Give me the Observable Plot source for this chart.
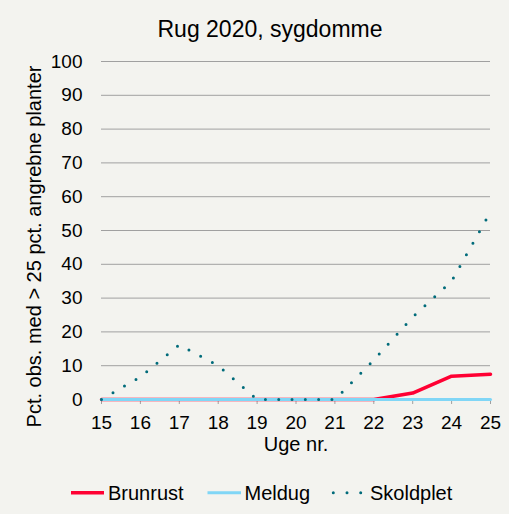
<!DOCTYPE html>
<html><head><meta charset="utf-8">
<script src="https://cdn.jsdelivr.net/npm/d3@7"></script>
<script src="https://cdn.jsdelivr.net/npm/@observablehq/plot@0.6"></script>
<style>
html,body{margin:0;padding:0;background:#f3f3ef;}
#wrap{position:relative;width:509px;height:514px;background:#f3f3ef;font-family:"Liberation Sans",Arial,sans-serif;color:#000;overflow:hidden;}
#title{position:absolute;left:0;top:18px;width:540px;text-align:center;font-size:23px;line-height:23px;white-space:nowrap;}
#chart{position:absolute;left:0;top:50px;}
#legend{position:absolute;left:0;top:470px;width:509px;height:44px;}
.lg{position:absolute;top:13px;font-size:20px;line-height:20px;white-space:nowrap;}
#sw{position:absolute;left:0;top:0;}
</style>
</head><body>
<div id="wrap">
  <div id="title">Rug 2020, sygdomme</div>
  <div id="chart"></div>
  <div id="legend"></div>
</div>
<script>
const weeks = [15, 16, 17, 18, 19, 20, 21, 22, 23, 24, 25];
const brunrust = [0, 0, 0, 0, 0, 0, 0, 0, 1.9, 6.9, 7.5];
const meldug = [0, 0, 0, 0, 0, 0, 0, 0, 0, 0, 0];
const skoldplet = [0, 6.7, 16.2, 10, 0, 0, 0, 11.7, 24.4, 35, 55.5];
const seriesNames = ["Brunrust", "Meldug", "Skoldplet"];
const seriesColors = ["#ff0033", "#80d6f6", "#006b7a"];
const yTicks = [0, 10, 20, 30, 40, 50, 60, 70, 80, 90, 100];
const xTicks = [15, 16, 17, 18, 19, 20, 21, 22, 23, 24, 25];
const yLabel = "Pct. obs. med > 25 pct. angrebne planter";
const xLabel = "Uge nr.";

const rows = (vals) => weeks.map((w, i) => ({week: w, value: vals[i]}));

const plot = Plot.plot({
  width: 509,
  height: 420,
  marginLeft: 101,
  marginRight: 19,
  marginTop: 11,
  marginBottom: 71,
  style: {background: "transparent", fontFamily: "'Liberation Sans', Arial, sans-serif", fontSize: "19px", color: "#000", overflow: "visible"},
  x: {domain: [15, 25]},
  y: {domain: [0, 100]},
  marks: [
    Plot.gridY(yTicks, {stroke: "#a0a0a0", strokeOpacity: 1, strokeWidth: 1}),
    Plot.axisY(yTicks, {tickSize: 0, tickPadding: 19, fontSize: 19, label: null, tickFormat: d => String(d)}),
    Plot.axisX(xTicks, {tickSize: 5, tickPadding: 11, stroke: "#a0a0a0", fontSize: 19, label: null, tickFormat: d => String(d)}),
    Plot.line(rows(brunrust), {x: "week", y: "value", stroke: seriesColors[0], strokeWidth: 3.5}),
    Plot.line(rows(meldug), {x: "week", y: "value", stroke: seriesColors[1], strokeWidth: 3}),
    Plot.line(rows(skoldplet), {x: "week", y: "value", stroke: seriesColors[2], strokeWidth: 3, strokeDasharray: "0 13.3", strokeLinecap: "round"}),
    Plot.text([yLabel], {text: d => d, frameAnchor: "left", textAnchor: "middle", rotate: -90, dx: -67, dy: 16, fontSize: 20, fill: "#000"}),
    Plot.text([xLabel], {text: d => d, frameAnchor: "bottom", dy: 51, fontSize: 20, fill: "#000"})
  ]
});
document.getElementById("chart").appendChild(plot);

// legend
const legend = document.getElementById("legend");
const sw = d3.create("svg").attr("id", "sw").attr("width", 509).attr("height", 44);
const ly = 22.7;
sw.append("line").attr("x1", 71).attr("x2", 104).attr("y1", ly).attr("y2", ly)
  .attr("stroke", seriesColors[0]).attr("stroke-width", 3.5);
sw.append("line").attr("x1", 207.5).attr("x2", 241).attr("y1", ly).attr("y2", ly)
  .attr("stroke", seriesColors[1]).attr("stroke-width", 3);
sw.append("line").attr("x1", 333.3).attr("x2", 361).attr("y1", ly).attr("y2", ly)
  .attr("stroke", seriesColors[2]).attr("stroke-width", 3).attr("stroke-dasharray", "0 13.7").attr("stroke-linecap", "round");
legend.appendChild(sw.node());
const textLefts = [108, 244.5, 370];
seriesNames.forEach((n, i) => {
  const d = document.createElement("div");
  d.className = "lg";
  d.style.left = textLefts[i] + "px";
  d.textContent = n;
  legend.appendChild(d);
});
</script>
</body></html>
